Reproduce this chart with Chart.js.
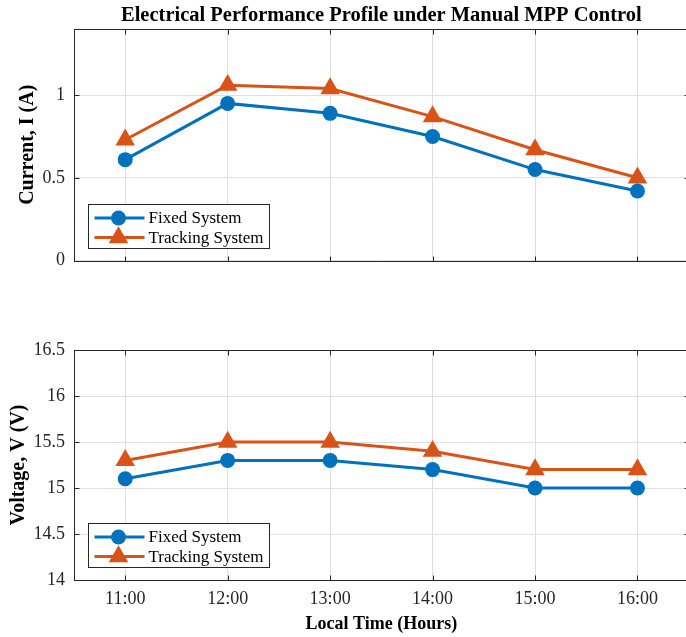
<!DOCTYPE html>
<html>
<head>
<meta charset="utf-8">
<script src="https://cdn.jsdelivr.net/npm/chart.js@4.4.1/dist/chart.umd.min.js"></script>
<style>
  html, body { margin: 0; padding: 0; background: #fff; width: 686px; height: 637px; overflow: hidden; }
  .plot { position: absolute; left: 0; }
  #top { top: 0; }
  #bottom { top: 320px; }
</style>
</head>
<body>
<canvas id="top" class="plot" width="700" height="282"></canvas>
<canvas id="bottom" class="plot" width="700" height="317"></canvas>
<script>
// data
const hours = ['11:00', '12:00', '13:00', '14:00', '15:00', '16:00'];
const fixedCurrent = [0.61, 0.95, 0.89, 0.75, 0.55, 0.42];
const trackingCurrent = [0.73, 1.06, 1.04, 0.87, 0.67, 0.50];
const fixedVoltage = [15.1, 15.3, 15.3, 15.2, 15.0, 15.0];
const trackingVoltage = [15.3, 15.5, 15.5, 15.4, 15.2, 15.2];

const SERIF = '"Liberation Serif", "Times New Roman", serif';
const BLUE = '#0072BD';
const ORANGE = '#D95319';
const AXIS = '#262626';
const GRID = '#dfdfdf';

function makeDatasets(fixed, tracking) {
  return [
    {
      label: 'Fixed System',
      data: fixed,
      borderColor: BLUE,
      backgroundColor: BLUE,
      borderWidth: 3,
      pointStyle: 'circle',
      pointRadius: 7.5,
      pointHoverRadius: 7.5,
      pointBorderWidth: 0,
      tension: 0
    },
    {
      label: 'Tracking System',
      data: tracking,
      borderColor: ORANGE,
      backgroundColor: ORANGE,
      borderWidth: 3,
      pointStyle: 'triangle',
      pointRadius: 11.3,
      pointHoverRadius: 11.3,
      pointBorderWidth: 0,
      tension: 0
    }
  ];
}

function drawMarker(ctx, style, r, x, y) {
  ctx.beginPath();
  if (style === 'triangle') {
    let rad = 0;
    ctx.moveTo(x + Math.sin(rad) * r, y - Math.cos(rad) * r);
    rad += 2 * Math.PI / 3;
    ctx.lineTo(x + Math.sin(rad) * r, y - Math.cos(rad) * r);
    rad += 2 * Math.PI / 3;
    ctx.lineTo(x + Math.sin(rad) * r, y - Math.cos(rad) * r);
    ctx.closePath();
  } else {
    ctx.arc(x, y, r, 0, Math.PI * 2);
  }
  ctx.fill();
}

// matlab style box with inward ticks
const boxPlugin = {
  id: 'matlabBox',
  afterDatasetsDraw(chart) {
    const { ctx, chartArea: a, scales } = chart;
    const L = Math.round(a.left) + 0.5, R = Math.round(a.right) + 0.5;
    const T = Math.round(a.top) + 0.5, B = Math.round(a.bottom) + 0.5;
    ctx.save();
    ctx.strokeStyle = AXIS;
    ctx.lineWidth = 1;
    ctx.beginPath();
    scales.x.ticks.forEach((t, i) => {
      const px = Math.round(scales.x.getPixelForTick(i)) + 0.5;
      ctx.moveTo(px, B); ctx.lineTo(px, B - 5);
      ctx.moveTo(px, T); ctx.lineTo(px, T + 5);
    });
    scales.y.ticks.forEach(t => {
      const py = Math.round(scales.y.getPixelForValue(t.value)) + 0.5;
      ctx.moveTo(L, py); ctx.lineTo(L + 5, py);
      ctx.moveTo(R, py); ctx.lineTo(R - 5, py);
    });
    ctx.stroke();
    ctx.strokeRect(L, T, R - L, B - T);
    ctx.restore();
  }
};

// legend inside the lower left corner
const insideLegend = {
  id: 'insideLegend',
  afterDraw(chart) {
    const { ctx, chartArea: a } = chart;
    const left = Math.round(a.left + 14) + 0.5;
    const top = Math.round(a.bottom - 57) + 0.5;
    const w = 181, h = 44;
    ctx.save();
    ctx.fillStyle = '#fff';
    ctx.fillRect(left, top, w, h);
    ctx.strokeStyle = AXIS;
    ctx.lineWidth = 1;
    ctx.strokeRect(left, top, w, h);
    const rows = [13.5, 33];
    chart.data.datasets.forEach((ds, i) => {
      const y = top + rows[i];
      ctx.strokeStyle = ds.borderColor;
      ctx.lineWidth = 3;
      ctx.beginPath();
      ctx.moveTo(left + 6, y);
      ctx.lineTo(left + 56, y);
      ctx.stroke();
      ctx.fillStyle = ds.borderColor;
      drawMarker(ctx, ds.pointStyle, ds.pointRadius, left + 30, y);
      ctx.fillStyle = '#000';
      ctx.font = '17px ' + SERIF;
      ctx.textBaseline = 'middle';
      ctx.textAlign = 'left';
      ctx.fillText(ds.label, left + 60, y + 1);
    });
    ctx.restore();
  }
};

function makeChart(id, opts) {
  return new Chart(document.getElementById(id), {
    type: 'line',
    data: { labels: hours, datasets: makeDatasets(opts.fixed, opts.tracking) },
    options: {
      responsive: false,
      animation: false,
      devicePixelRatio: 1,
      layout: { padding: { left: 0, right: 8, top: opts.padTop, bottom: 0 } },
      plugins: {
        legend: { display: false },
        tooltip: { enabled: false },
        title: {
          display: !!opts.title,
          text: opts.title || '',
          fullSize: false,
          color: '#000',
          font: { family: SERIF, size: 20.5, weight: 'bold' },
          padding: { top: 3, bottom: 1.4 }
        }
      },
      scales: {
        x: {
          type: 'category',
          offset: true,
          grid: { offset: false, color: GRID, drawTicks: false },
          border: { display: false },
          ticks: {
            display: opts.showX,
            color: AXIS,
            padding: 8,
            maxRotation: 0,
            font: { family: SERIF, size: 18 }
          },
          title: {
            display: opts.showX,
            text: 'Local Time (Hours)',
            color: '#000',
            font: { family: SERIF, size: 18, weight: 'bold' },
            padding: { top: 0, bottom: 2 }
          },
          afterFit: s => { s.height = opts.xHeight; }
        },
        y: {
          min: opts.yMin,
          max: opts.yMax,
          grid: { color: GRID, drawTicks: false },
          border: { display: false },
          ticks: {
            stepSize: 0.5,
            includeBounds: false,
            color: AXIS,
            padding: 9,
            font: { family: SERIF, size: 18 },
            callback: v => String(v)
          },
          title: {
            display: true,
            text: opts.yTitle,
            color: '#000',
            font: { family: SERIF, size: 20, weight: 'bold' },
            padding: { top: opts.yTitlePad, bottom: 0 }
          },
          afterFit: s => { s.width = 74; }
        }
      }
    },
    plugins: [boxPlugin, insideLegend]
  });
}

makeChart('top', {
  fixed: fixedCurrent,
  tracking: trackingCurrent,
  title: 'Electrical Performance Profile under Manual MPP Control',
  padTop: 0,
  showX: false,
  xHeight: 21.5,
  yMin: 0,
  yMax: 1.4,
  yTitle: 'Current, I (A)',
  yTitlePad: 16
});

makeChart('bottom', {
  fixed: fixedVoltage,
  tracking: trackingVoltage,
  padTop: 30,
  showX: true,
  xHeight: 57,
  yMin: 14,
  yMax: 16.5,
  yTitle: 'Voltage, V (V)',
  yTitlePad: 7
});
</script>
</body>
</html>
